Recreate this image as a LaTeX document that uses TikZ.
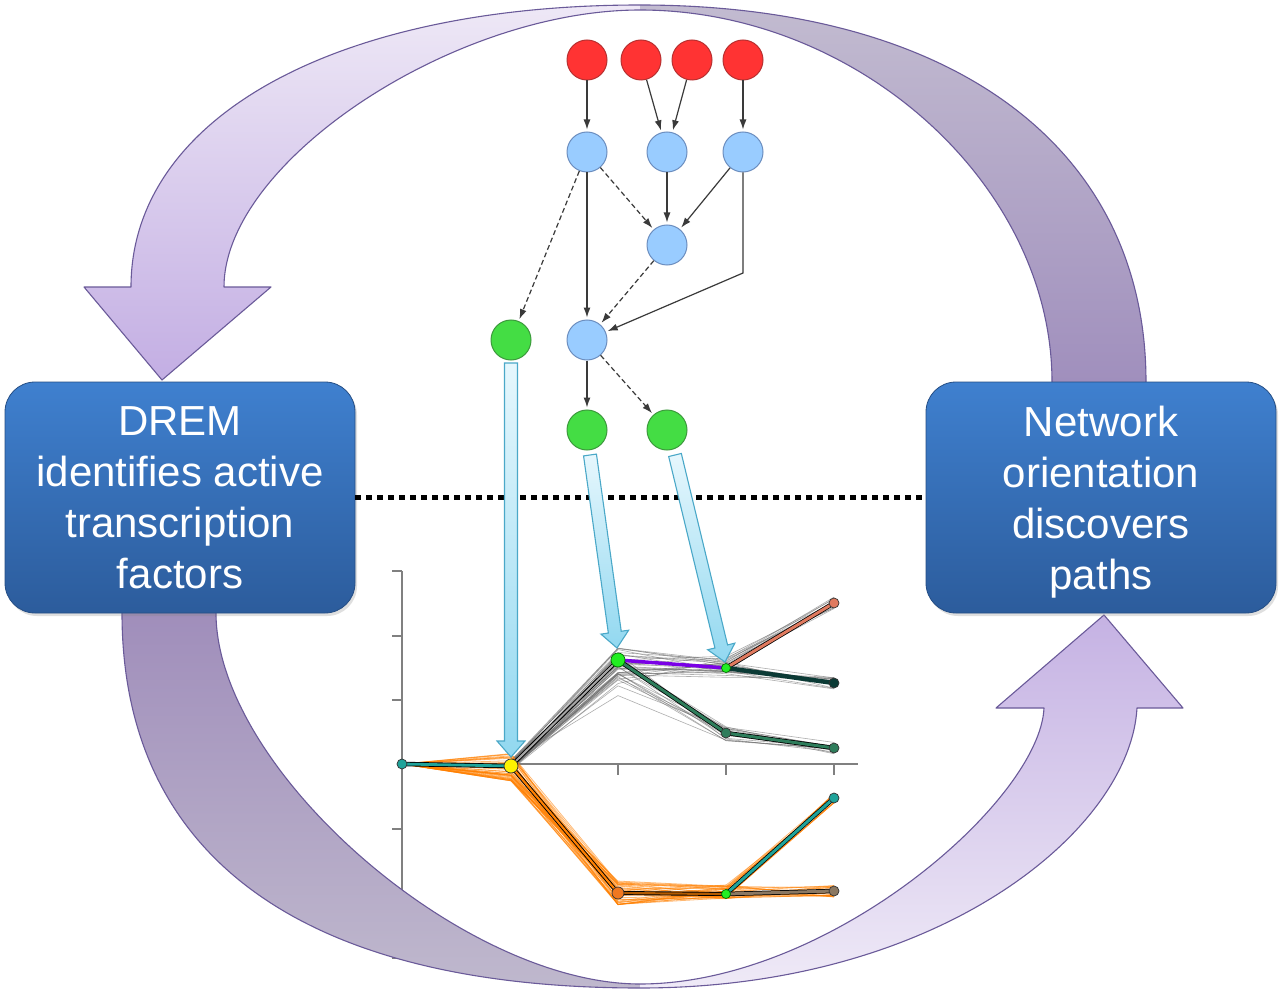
\documentclass[tikz,border=0pt]{standalone}
\usepackage{fontspec}
\setmainfont{Liberation Sans}
\usetikzlibrary{arrows.meta,shadows}
\definecolor{netred}{HTML}{FF3333}
\definecolor{netredb}{HTML}{B83030}
\definecolor{netblue}{HTML}{99CCFF}
\definecolor{netblueb}{HTML}{6C8EBF}
\definecolor{netgreen}{HTML}{44DD44}
\definecolor{netgreenb}{HTML}{3C9A3C}
\definecolor{edgec}{HTML}{3A3A3A}
\definecolor{boxtop}{HTML}{3F80CF}
\definecolor{boxbot}{HTML}{2C5C9C}
\definecolor{arrline}{HTML}{6A5A99}
\definecolor{arrTRa}{HTML}{C2BBD0}
\definecolor{arrTRb}{HTML}{A08FBD}
\definecolor{arrTLa}{HTML}{EEE8F6}
\definecolor{arrTLb}{HTML}{C3AEE3}
\definecolor{arrBLa}{HTML}{A08EBB}
\definecolor{arrBLb}{HTML}{BFB8CD}
\definecolor{arrBRa}{HTML}{C5B2E3}
\definecolor{arrBRb}{HTML}{EFEAF7}
\definecolor{cyanfillA}{HTML}{E6F7FD}
\definecolor{cyanfillB}{HTML}{92D8F0}
\definecolor{cyanline}{HTML}{4AA8C8}
\definecolor{axisc}{HTML}{808080}
\definecolor{tealc}{HTML}{1FA39A}
\definecolor{purplec}{HTML}{7A00E6}
\definecolor{salmonc}{HTML}{E07A5F}
\definecolor{darkc}{HTML}{0B3A35}
\definecolor{greenpc}{HTML}{2E7D5B}
\definecolor{orangec}{HTML}{FF8000}
\definecolor{orangenode}{HTML}{F07820}
\definecolor{brownc}{HTML}{8B7862}
\definecolor{brightgreen}{HTML}{22EE22}
\begin{document}
\begin{tikzpicture}[x=1pt,y=-1pt,
  net/.style={circle,inner sep=0pt,minimum size=40,line width=1},
  rednode/.style={net,fill=netred,draw=netredb},
  bluenode/.style={net,fill=netblue,draw=netblueb},
  greennode/.style={net,fill=netgreen,draw=netgreenb},
  edge/.style={draw=edgec,line width=1.2,shorten >=2pt,-{Latex[length=10pt,width=7pt]}},
  dedge/.style={edge,dash pattern=on 5pt off 3pt},
  bigoutline/.style={draw=arrline,line width=1.1,line join=round},
  tfbox/.style={rounded corners=30pt,top color=boxtop,bottom color=boxbot,draw=boxbot!85!black,
     line width=0.8,text=white,align=center,font=\fontsize{42}{51}\selectfont,
     minimum width=350,minimum height=231,text depth=0pt,
     drop shadow={opacity=0.25,shadow xshift=2pt,shadow yshift=-3pt}},
  dotline/.style={draw=black,line width=5.5,dash pattern=on 6pt off 5pt},
  blockarrow/.style={top color=cyanfillA,bottom color=cyanfillB,draw=cyanline,line width=1.1},
  axis/.style={draw=axisc,line width=2},
  grayl/.style={draw=gray!85!black,line width=0.6,opacity=0.55},
  orangel/.style={draw=orangec,line width=0.8,opacity=0.55},
  mk/.style={circle,inner sep=0pt,draw=black!80,line width=0.7},
  gmk/.style={mk,fill=brightgreen,draw=green!45!black}
]
\useasboundingbox[fill=white] (0,0) rectangle (1280,1003);

% ---------- chart axes ----------
\draw[axis] (402,571) -- (402,960);
\foreach \yy in {571,636,700,829,893,958} \draw[axis] (392,\yy) -- (402,\yy);
\draw[axis] (402,764) -- (858,764);
\foreach \xx in {618,726,834} \draw[axis] (\xx,764) -- (\xx,775);

% ---------- big curved arrows ----------
% top arrow: back (right) half, front (left) half with head
\path[top color=arrTRa,bottom color=arrTRb]
 (1146,382) .. controls (1146,148) and (954,5) .. (640,5)
 -- (640,10) .. controls (858,10) and (1052,185) .. (1052,382) -- cycle;
\path[top color=arrTLa,bottom color=arrTLb]
 (640,5) .. controls (335,5) and (131,118) .. (131,287)
 -- (84,287) -- (162,380) -- (271,287) -- (224,287)
 .. controls (224,162) and (453,10) .. (640,10) -- cycle;
\path[bigoutline]
 (1146,382) .. controls (1146,148) and (954,5) .. (640,5)
 .. controls (335,5) and (131,118) .. (131,287)
 -- (84,287) -- (162,380) -- (271,287) -- (224,287)
 .. controls (224,162) and (453,10) .. (640,10)
 .. controls (858,10) and (1052,185) .. (1052,382);
% bottom arrow: back (left) half, front (right) half with head
\path[top color=arrBLa,bottom color=arrBLb]
 (122,613) .. controls (122,857) and (303,988) .. (640,988)
 -- (640,984) .. controls (462,984) and (216,769) .. (216,613) -- cycle;
\path[top color=arrBRa,bottom color=arrBRb]
 (640,988) .. controls (940,988) and (1130,830) .. (1137,708)
 -- (1183,708) -- (1104,615) -- (996,708) -- (1044,708)
 .. controls (1040,800) and (830,984) .. (640,984) -- cycle;
\path[bigoutline]
 (122,613) .. controls (122,857) and (303,988) .. (640,988)
 .. controls (940,988) and (1130,830) .. (1137,708)
 -- (1183,708) -- (1104,615) -- (996,708) -- (1044,708)
 .. controls (1040,800) and (830,984) .. (640,984)
 .. controls (462,984) and (216,769) .. (216,613);

% ---------- boxes ----------
\node[tfbox] (lbox) at (180,497.5) {DREM\\identifies active\\transcription\\factors};
\node[tfbox] (rbox) at (1101,497.5) {Network\\orientation\\discovers\\paths};
\draw[dotline] (lbox.east) -- (rbox.west);

% ---------- network ----------
\node[rednode] (r1) at (587,60) {};
\node[rednode] (r2) at (641,60) {};
\node[rednode] (r3) at (692,60) {};
\node[rednode] (r4) at (743,60) {};
\node[bluenode] (b1) at (587,152) {};
\node[bluenode] (b2) at (667,152) {};
\node[bluenode] (b3) at (743,152) {};
\node[bluenode] (b4) at (667,245) {};
\node[bluenode] (b5) at (587,340) {};
\node[greennode] (g1) at (511,340) {};
\node[greennode] (g2) at (587,430) {};
\node[greennode] (g3) at (667,430) {};
\coordinate (k) at (743,273);
\draw[edge] (r1) -- (b1);
\draw[edge] (r2) -- (b2);
\draw[edge] (r3) -- (b2);
\draw[edge] (r4) -- (b3);
\draw[dedge] (b1) -- (g1);
\draw[edge] (b1) -- (b5);
\draw[dedge] (b1) -- (b4);
\draw[edge] (b2) -- (b4);
\draw[edge] (b3) -- (b4);
\draw[edge] (b3) -- (k) -- (b5);
\draw[dedge] (b4) -- (b5);
\draw[edge] (b5) -- (g2);
\draw[dedge] (b5) -- (g3);

% ---------- chart bundles ----------
\pgfmathsetseed{17}
\foreach \i in {1,...,14}{
  \pgfmathsetmacro\ya{765+5*rand}\pgfmathsetmacro\yb{666+18*rand}
  \pgfmathsetmacro\yc{664+8*rand}\pgfmathsetmacro\yd{603+6*rand}
  \draw[grayl] (511,\ya) -- (618,\yb) -- (726,\yc) -- (834,\yd);
  \pgfmathsetmacro\ya{765+5*rand}\pgfmathsetmacro\yb{670+22*rand}
  \pgfmathsetmacro\yc{670+9*rand}\pgfmathsetmacro\yd{683+6*rand}
  \draw[grayl] (511,\ya) -- (618,\yb) -- (726,\yc) -- (834,\yd);
  \pgfmathsetmacro\ya{765+5*rand}\pgfmathsetmacro\yb{675+22*rand}
  \pgfmathsetmacro\yc{733+8*rand}\pgfmathsetmacro\yd{748+6*rand}
  \draw[grayl] (511,\ya) -- (618,\yb) -- (726,\yc) -- (834,\yd);
}
\foreach \i in {1,...,20}{
  \pgfmathsetmacro\ya{767+14*rand}\pgfmathsetmacro\yb{893+12*rand}
  \pgfmathsetmacro\yc{892+7*rand}\pgfmathsetmacro\yd{798+5*rand}
  \draw[orangel] (402,764) -- (511,\ya) -- (618,\yb) -- (726,\yc) -- (834,\yd);
  \pgfmathsetmacro\ya{767+14*rand}\pgfmathsetmacro\yb{893+12*rand}
  \pgfmathsetmacro\yc{892+7*rand}\pgfmathsetmacro\yd{891+6*rand}
  \draw[orangel] (402,764) -- (511,\ya) -- (618,\yb) -- (726,\yc) -- (834,\yd);
}

% ---------- chart paths ----------
\coordinate (c0) at (402,764);
\coordinate (c1) at (511,766);
\coordinate (c2) at (618,660);
\coordinate (c3) at (726,668);
\coordinate (c4) at (834,603);
\coordinate (c5) at (834,683);
\coordinate (c6) at (726,733);
\coordinate (c7) at (834,748);
\coordinate (c8) at (618,893);
\coordinate (c9) at (726,894);
\coordinate (c10) at (834,798);
\coordinate (c11) at (834,891);
\begin{scope}[line cap=round]
\draw[black,line width=4.5] (c0) -- (c1);
\draw[tealc,line width=2.8] (c0) -- (c1);
\draw[black,line width=4] (c1) -- (c2);
\draw[gray!70,line width=2] (c1) -- (c2);
\draw[black,line width=4] (c1) -- (c8);
\draw[orangec,line width=2.2] (c1) -- (c8);
\draw[black,line width=4] (c8) -- (c9);
\draw[orangec!70!black,line width=2.2] (c8) -- (c9);
\draw[purplec,line width=3.5] (c2) -- (c3);
\draw[black,line width=4.5] (c3) -- (c4);
\draw[salmonc,line width=3] (c3) -- (c4);
\draw[darkc,line width=4.5] (c3) -- (c5);
\draw[black,line width=4.5] (c2) -- (c6) -- (c7);
\draw[greenpc,line width=3] (c2) -- (c6) -- (c7);
\draw[black,line width=4.5] (c9) -- (c10);
\draw[tealc,line width=3] (c9) -- (c10);
\draw[black,line width=4.5] (c9) -- (c11);
\draw[brownc,line width=3] (c9) -- (c11);
\end{scope}

% ---------- chart markers ----------
\node[mk,fill=tealc,minimum size=10] (p0) at (c0) {};
\node[mk,fill=yellow,minimum size=14] (p1) at (c1) {};
\node[gmk,minimum size=14] (p2) at (c2) {};
\node[gmk,minimum size=9] (p3) at (c3) {};
\node[mk,fill=salmonc,minimum size=10] (p4) at (c4) {};
\node[mk,fill=darkc,minimum size=10] (p5) at (c5) {};
\node[mk,fill=greenpc,minimum size=10] (p6) at (c6) {};
\node[mk,fill=greenpc,minimum size=10] (p7) at (c7) {};
\node[mk,fill=orangenode,minimum size=12] (p8) at (c8) {};
\node[gmk,minimum size=9] (p9) at (c9) {};
\node[mk,fill=tealc,minimum size=10] (p10) at (c10) {};
\node[mk,fill=brownc,minimum size=10] (p11) at (c11) {};

% ---------- block arrows ----------
\path[blockarrow] (504.5,363) -- (504.5,741) -- (497,741) -- (511,757) -- (525,741) -- (517.5,741) -- (517.5,363) -- cycle;
\path[blockarrow] (583.56,455.90) -- (608.34,633.06) -- (600.92,634.10) -- (617,648) -- (628.64,630.22) -- (621.22,631.26) -- (596.44,454.10) -- cycle;
\path[blockarrow] (668.68,456.53) -- (714.92,647.98) -- (707.63,649.74) -- (725,662) -- (734.85,643.16) -- (727.56,644.92) -- (681.32,453.47) -- cycle;
\end{tikzpicture}
\end{document}
